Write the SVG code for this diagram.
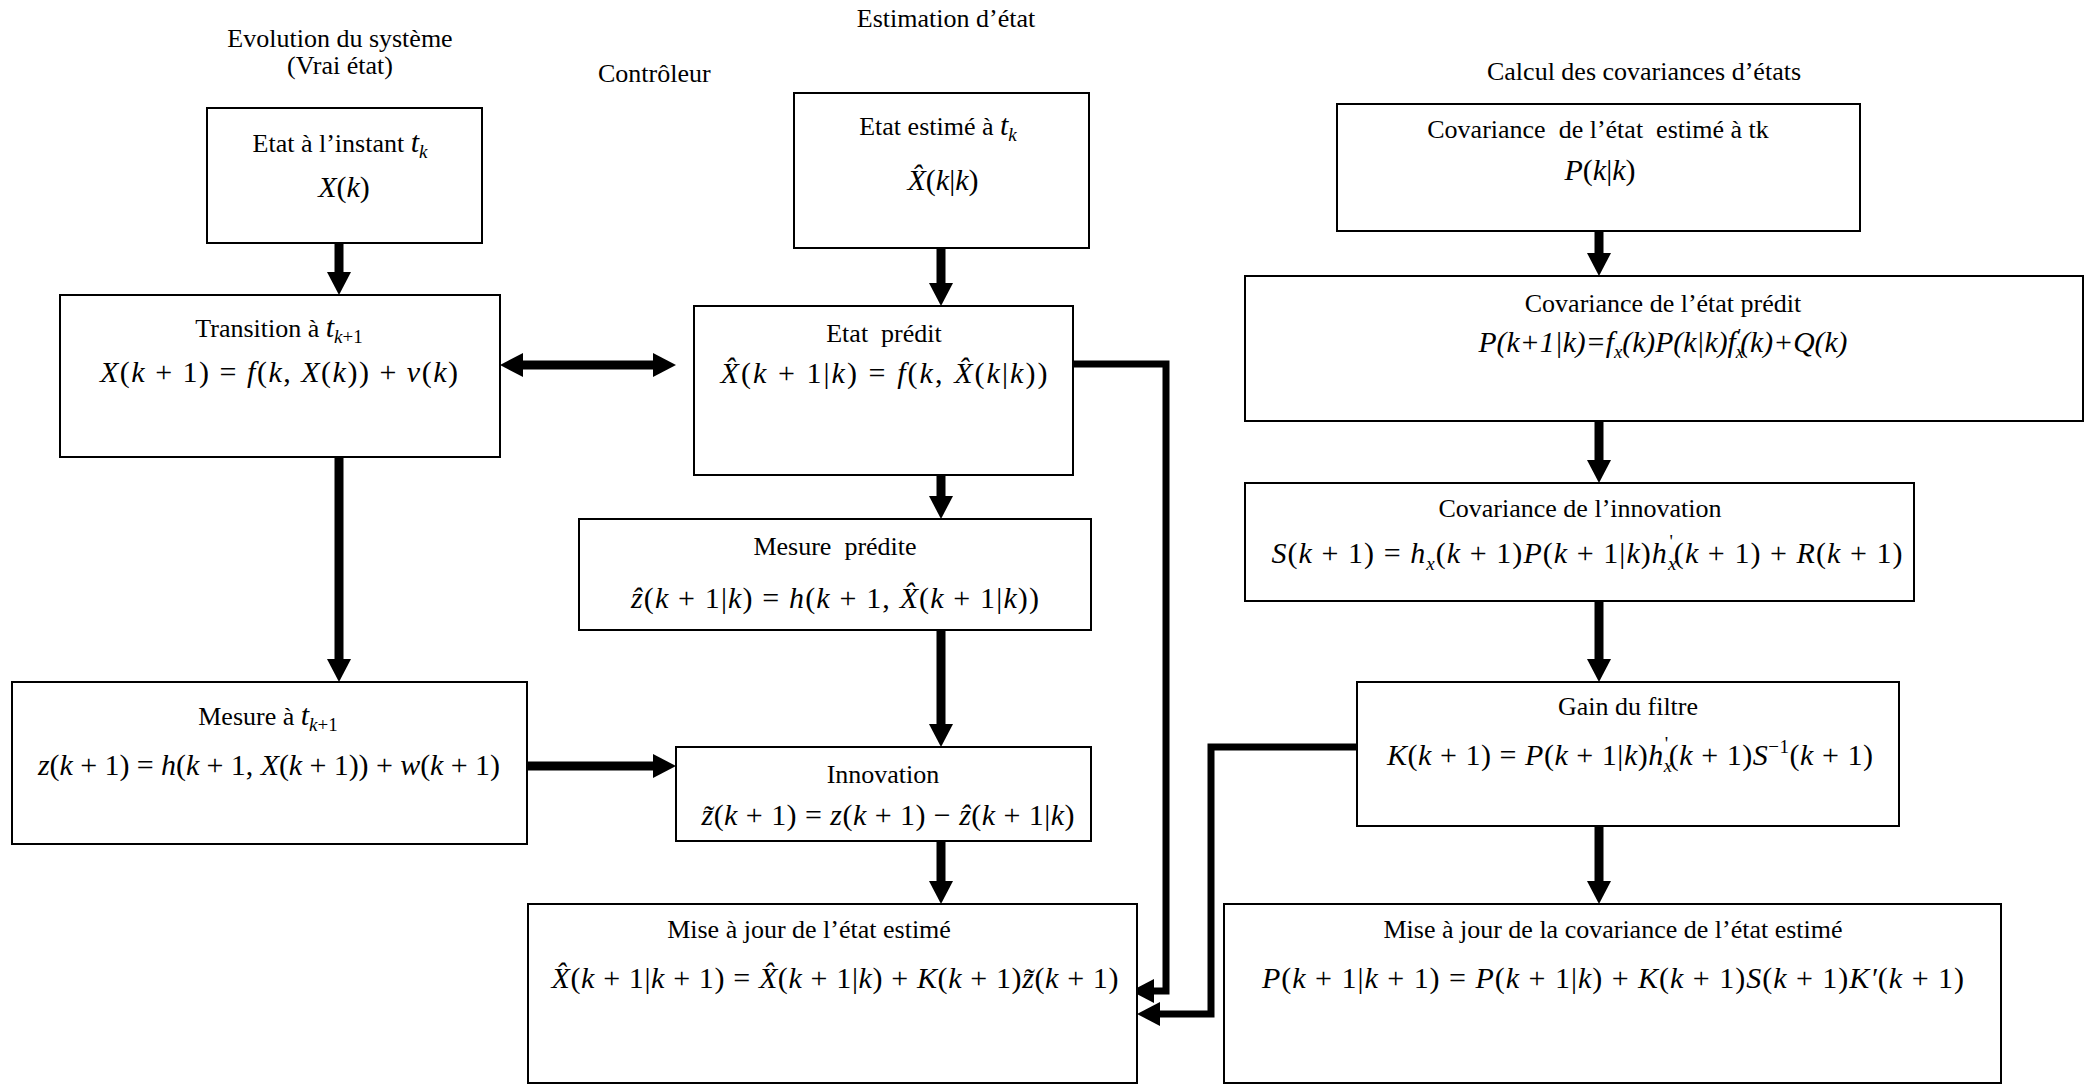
<svg xmlns="http://www.w3.org/2000/svg" width="2091" height="1084" viewBox="0 0 2091 1084">
<style>
text{font-family:"Liberation Serif","Times New Roman",serif;fill:#000}
.t{font-size:26px}
.l{font-size:26px;text-anchor:middle}
.f{font-size:30px;text-anchor:middle}
.i{font-style:italic}
.s{font-size:19px}
.box{fill:#fff;stroke:#000;stroke-width:2}
.c{fill:none;stroke:#000;stroke-width:9}
.e{fill:none;stroke:#000;stroke-width:7;stroke-linejoin:miter}
</style>
<defs>
<marker id="ah" markerUnits="userSpaceOnUse" markerWidth="24" markerHeight="26" viewBox="0 -13 24 26" refX="0" refY="0" orient="auto-start-reverse" overflow="visible"><path d="M0,-12 L23,0 L0,12 z" fill="#000"/></marker>
</defs>

<g id="titles">
<text class="l" x="340" y="47">Evolution du système</text>
<text class="l" x="340" y="74">(Vrai état)</text>
<text class="t" x="598" y="82">Contrôleur</text>
<text class="l" x="946" y="27">Estimation d’état</text>
<text class="l" x="1644" y="80">Calcul des covariances d’états</text>
</g>

<g id="connectors">
<path class="c" d="M339,243 V272" marker-end="url(#ah)"/>
<path class="c" d="M339,457 V659" marker-end="url(#ah)"/>
<path class="c" d="M523,365 H653" marker-start="url(#ah)" marker-end="url(#ah)"/>
<path class="c" d="M527,766 H653" marker-end="url(#ah)"/>
<path class="c" d="M941,248 V283" marker-end="url(#ah)"/>
<path class="c" d="M941,475 V496" marker-end="url(#ah)"/>
<path class="c" d="M941,630 V724" marker-end="url(#ah)"/>
<path class="c" d="M941,841 V881" marker-end="url(#ah)"/>
<path class="e" d="M1073,364 H1166 V991 H1154" marker-end="url(#ah)"/>
<path class="c" d="M1599,231 V253" marker-end="url(#ah)"/>
<path class="c" d="M1599,421 V460" marker-end="url(#ah)"/>
<path class="c" d="M1599,601 V659" marker-end="url(#ah)"/>
<path class="c" d="M1599,826 V881" marker-end="url(#ah)"/>
<path class="e" d="M1357,747 H1211 V1014 H1160" marker-end="url(#ah)"/>
</g>

<g id="etat-tk">
<rect class="box" x="207" y="108" width="275" height="135"/>
<text class="l" x="340" y="152">Etat à l’instant <tspan class="i" font-size="30">t</tspan><tspan class="i s" dy="6">k</tspan></text>
<text class="f" x="344" y="197"><tspan class="i">X</tspan>(<tspan class="i">k</tspan>)</text>
</g>

<g id="transition">
<rect class="box" x="60" y="295" width="440" height="162"/>
<text class="l" x="279" y="337">Transition à <tspan class="i" font-size="30">t</tspan><tspan class="s" dy="6"><tspan class="i">k</tspan>+1</tspan></text>
<text class="f" x="279" y="382" textLength="358"><tspan class="i">X</tspan>(<tspan class="i">k</tspan> + 1) = <tspan class="i">f</tspan>(<tspan class="i">k</tspan>, <tspan class="i">X</tspan>(<tspan class="i">k</tspan>)) + <tspan class="i">v</tspan>(<tspan class="i">k</tspan>)</text>
</g>

<g id="mesure">
<rect class="box" x="12" y="682" width="515" height="162"/>
<text class="l" x="268" y="725">Mesure à <tspan class="i" font-size="30">t</tspan><tspan class="s" dy="6"><tspan class="i">k</tspan>+1</tspan></text>
<text class="f" x="269" y="775" textLength="462"><tspan class="i">z</tspan>(<tspan class="i">k</tspan> + 1) = <tspan class="i">h</tspan>(<tspan class="i">k</tspan> + 1, <tspan class="i">X</tspan>(<tspan class="i">k</tspan> + 1)) + <tspan class="i">w</tspan>(<tspan class="i">k</tspan> + 1)</text>
</g>

<g id="etat-estime">
<rect class="box" x="794" y="93" width="295" height="155"/>
<text class="l" x="938" y="135">Etat estimé à <tspan class="i" font-size="30">t</tspan><tspan class="i s" dy="6">k</tspan></text>
<text class="f" x="943" y="190"><tspan class="i">X&#x302;</tspan>(<tspan class="i">k</tspan>|<tspan class="i">k</tspan>)</text>
</g>

<g id="etat-predit">
<rect class="box" x="694" y="306" width="379" height="169"/>
<text class="l" x="884" y="342" xml:space="preserve">Etat  prédit</text>
<text class="f" x="884" y="383" textLength="327"><tspan class="i">X&#x302;</tspan>(<tspan class="i">k</tspan> + 1|<tspan class="i">k</tspan>) = <tspan class="i">f</tspan>(<tspan class="i">k</tspan>, <tspan class="i">X&#x302;</tspan>(<tspan class="i">k</tspan>|<tspan class="i">k</tspan>))</text>
</g>

<g id="mesure-predite">
<rect class="box" x="579" y="519" width="512" height="111"/>
<text class="l" x="835" y="555" xml:space="preserve">Mesure  prédite</text>
<text class="f" x="835" y="608" textLength="408"><tspan class="i">&#x1E91;</tspan>(<tspan class="i">k</tspan> + 1|<tspan class="i">k</tspan>) = <tspan class="i">h</tspan>(<tspan class="i">k</tspan> + 1, <tspan class="i">X&#x302;</tspan>(<tspan class="i">k</tspan> + 1|<tspan class="i">k</tspan>))</text>
</g>

<g id="innovation">
<rect class="box" x="676" y="747" width="415" height="94"/>
<text class="l" x="883" y="783">Innovation</text>
<text class="f" x="888" y="825" textLength="373"><tspan class="i">z&#x303;</tspan>(<tspan class="i">k</tspan> + 1) = <tspan class="i">z</tspan>(<tspan class="i">k</tspan> + 1) − <tspan class="i">&#x1E91;</tspan>(<tspan class="i">k</tspan> + 1|<tspan class="i">k</tspan>)</text>
</g>

<g id="maj-etat">
<rect class="box" x="528" y="904" width="609" height="179"/>
<text class="l" x="809" y="938">Mise à jour de l’état estimé</text>
<text class="f" x="835" y="988" textLength="567"><tspan class="i">X&#x302;</tspan>(<tspan class="i">k</tspan> + 1|<tspan class="i">k</tspan> + 1) = <tspan class="i">X&#x302;</tspan>(<tspan class="i">k</tspan> + 1|<tspan class="i">k</tspan>) + <tspan class="i">K</tspan>(<tspan class="i">k</tspan> + 1)<tspan class="i">z&#x303;</tspan>(<tspan class="i">k</tspan> + 1)</text>
</g>

<g id="cov-estime">
<rect class="box" x="1337" y="104" width="523" height="127"/>
<text class="l" x="1598" y="138" xml:space="preserve">Covariance  de l’état  estimé à tk</text>
<text class="f" x="1600" y="180"><tspan class="i">P</tspan>(<tspan class="i">k</tspan>|<tspan class="i">k</tspan>)</text>
</g>

<g id="cov-predit">
<rect class="box" x="1245" y="276" width="838" height="145"/>
<text class="l" x="1663" y="312">Covariance de l’état prédit</text>
<text class="f i" x="1663" y="352" textLength="369" lengthAdjust="spacingAndGlyphs">P(k+1|k)=f<tspan class="s" dy="6">x</tspan><tspan dy="-6">(k)P(k|k)f</tspan><tspan class="s" dy="6">x</tspan><tspan class="s" dx="-8" dy="-16">'</tspan><tspan dy="10">(k)+Q(k)</tspan></text>
</g>

<g id="cov-innovation">
<rect class="box" x="1245" y="483" width="669" height="118"/>
<text class="l" x="1580" y="517">Covariance de l’innovation</text>
<text class="f" x="1587" y="563" textLength="631"><tspan class="i">S</tspan>(<tspan class="i">k</tspan> + 1) = <tspan class="i">h</tspan><tspan class="i s" dy="7">x</tspan><tspan dy="-7">(</tspan><tspan class="i">k</tspan> + 1)<tspan class="i">P</tspan>(<tspan class="i">k</tspan> + 1|<tspan class="i">k</tspan>)<tspan class="i">h</tspan><tspan class="i s" dy="7">x</tspan><tspan class="s" dx="-8" dy="-22">'</tspan><tspan dy="15">(</tspan><tspan class="i">k</tspan> + 1) + <tspan class="i">R</tspan>(<tspan class="i">k</tspan> + 1)</text>
</g>

<g id="gain">
<rect class="box" x="1357" y="682" width="542" height="144"/>
<text class="l" x="1628" y="715">Gain du filtre</text>
<text class="f" x="1630" y="765" textLength="486"><tspan class="i">K</tspan>(<tspan class="i">k</tspan> + 1) = <tspan class="i">P</tspan>(<tspan class="i">k</tspan> + 1|<tspan class="i">k</tspan>)<tspan class="i">h</tspan><tspan class="i s" dy="7">x</tspan><tspan class="s" dx="-8" dy="-22">'</tspan><tspan dy="15">(</tspan><tspan class="i">k</tspan> + 1)<tspan class="i">S</tspan><tspan class="s" dy="-12">−1</tspan><tspan dy="12">(</tspan><tspan class="i">k</tspan> + 1)</text>
</g>

<g id="maj-cov">
<rect class="box" x="1224" y="904" width="777" height="179"/>
<text class="l" x="1613" y="938">Mise à jour de la covariance de l’état estimé</text>
<text class="f" x="1613" y="988" textLength="702"><tspan class="i">P</tspan>(<tspan class="i">k</tspan> + 1|<tspan class="i">k</tspan> + 1) = <tspan class="i">P</tspan>(<tspan class="i">k</tspan> + 1|<tspan class="i">k</tspan>) + <tspan class="i">K</tspan>(<tspan class="i">k</tspan> + 1)<tspan class="i">S</tspan>(<tspan class="i">k</tspan> + 1)<tspan class="i">K′</tspan>(<tspan class="i">k</tspan> + 1)</text>
</g>
</svg>
